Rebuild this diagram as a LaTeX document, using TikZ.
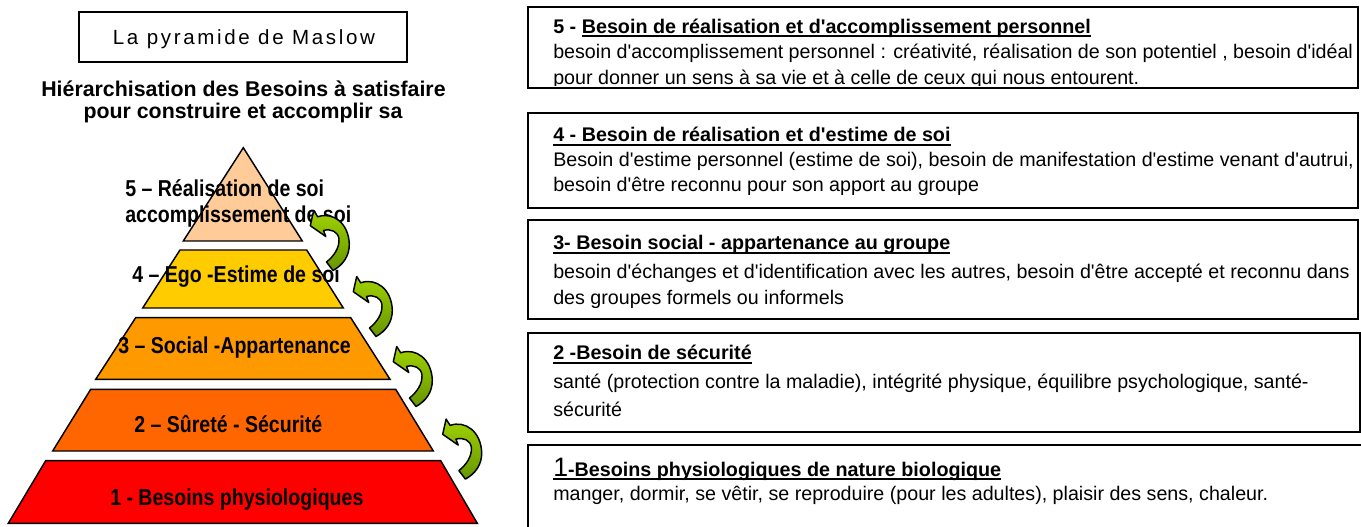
\documentclass[tikz,border=0pt]{standalone}
\usepackage{fontspec}
\newfontfamily\arial{Liberation Sans}
\newfontfamily\narrow[FakeStretch=0.85]{Liberation Sans}
\newfontfamily\spaced[LetterSpace=13]{Liberation Sans}
\definecolor{cfive}{HTML}{FFCC99}
\definecolor{cfour}{HTML}{FFCC00}
\definecolor{cthree}{HTML}{FF9900}
\definecolor{ctwo}{HTML}{FF6600}
\definecolor{cone}{HTML}{FF0000}
\definecolor{arrlight}{RGB}{160,210,0}
\definecolor{arrdark}{RGB}{102,150,0}
\newcommand\ulx[1]{\setbox0\hbox{#1}\rlap{\rule[-2.8pt]{\wd0}{1.3pt}}\box0}
\newcommand\greenarrow[1]{%
  \shade[shift={#1}, top color=arrlight, bottom color=arrdark, draw=black, line width=1.1pt, line join=round]
  (13.3,21.7) -- (16.7,6.5) -- (20.7,12.8) .. controls (36,7.5) and (51.5,19) .. (52.3,40)
  .. controls (52.5,52) and (46,61) .. (36,66.5) -- (29.5,58)
  .. controls (37,52) and (42.5,44) .. (42,35) .. controls (41,27.5) and (34,24.5) .. (26.5,26.5)
  -- (28.8,32.5) -- cycle;}
\begin{document}
\begin{tikzpicture}[x=0.75pt,y=-0.75pt,
  layer/.style={draw=black, line width=1.1pt, line join=miter},
  lab/.style={font=\narrow\bfseries\fontsize{17.25pt}{20pt}\selectfont, inner sep=0pt, anchor=base west},
  head/.style={font=\arial\bfseries\fontsize{16pt}{18pt}\selectfont, inner sep=0pt, anchor=base},
  boxttl/.style={font=\arial\bfseries\fontsize{14.8pt}{17pt}\selectfont, inner sep=0pt, anchor=base west},
  boxtxt/.style={font=\arial\fontsize{14.75pt}{17pt}\selectfont, inner sep=0pt, anchor=base west},
  frame/.style={draw=black, line width=1.5pt}]
\useasboundingbox (0,0) rectangle (1361,527);
\clip (0,0) rectangle (1361,527);

% title box
\draw[line width=1.1pt] (79,12) rectangle (407,62);
\node[font=\spaced\fontsize{15.4pt}{18pt}\selectfont, inner sep=0pt, anchor=base] (titre) at (244,44.3) {La pyramide de Maslow};
\node[head] (h1) at (243.5,96.7) {Hiérarchisation des Besoins à satisfaire};
\node[head] (h2) at (243,119) {pour construire et accomplir sa};

% pyramid
\fill[cfive, layer] (243.3,147.7) -- (302.3,241) -- (183.3,241) -- cycle;
\fill[cfour, layer] (180,250) -- (306.7,250) -- (343.3,308) -- (142.7,308) -- cycle;
\fill[cthree, layer] (135.7,317.7) -- (350.7,317.7) -- (390,379.3) -- (95.7,379.3) -- cycle;
\fill[ctwo, layer] (90.7,389.3) -- (395.7,389.3) -- (433.3,451) -- (52.7,451) -- cycle;
\fill[cone, layer] (45.7,460.7) -- (440.7,460.7) -- (477.3,523.3) -- (8.3,523.3) -- cycle;

\node[lab] (l5a) at (125,197) {5 – Réalisation de soi};
\node[lab] (l5b) at (125,223) {accomplissement de soi};
\node[lab] (l4) at (132,283) {4 – Ego -Estime de soi};
\node[lab] (l3) at (118,354) {3 – Social -Appartenance};
\node[lab] (l2) at (134,432.7) {2 – Sûreté - Sécurité};
\node[lab] (l1) at (110,505) {1 - Besoins physiologiques};

\greenarrow{(297,204)}
\greenarrow{(340,270)}
\greenarrow{(380,340)}
\greenarrow{(429.4,412.6)}

% right boxes
\draw[frame] (528,6.7) rectangle (1358,88.5);
\draw[frame] (528,113) rectangle (1358,208);
\draw[frame] (528,220) rectangle (1358,319);
\draw[frame] (528,333) rectangle (1360,432);
\draw[frame] (528,445) rectangle (1375,540);

\node[boxttl] (t5) at (553,33.3) {5 - \ulx{Besoin de réalisation et d'accomplissement personnel}};
\begin{scope}
\clip (530,40) rectangle (1356,86);
\node[boxtxt] (t5a) at (553,59) {besoin d'accomplissement personnel : créativité, réalisation de son potentiel , besoin d'idéal};
\node[boxtxt] (t5b) at (553,84.5) {pour donner un sens à sa vie et à celle de ceux qui nous entourent.};
\end{scope}

\node[boxttl] (t4) at (553,142) {\ulx{4 - Besoin de réalisation et d'estime de soi}};
\begin{scope}
\clip (530,148) rectangle (1356,194.5);
\node[boxtxt] (t4a) at (553,167) {Besoin d'estime personnel (estime de soi), besoin de manifestation d'estime venant d'autrui,};
\node[boxtxt] (t4b) at (553,192) {besoin d'être reconnu pour son apport au groupe};
\end{scope}

\node[boxttl] (t3) at (553,250) {\ulx{3- Besoin social - appartenance au groupe}};
\begin{scope}
\clip (530,258) rectangle (1356,308);
\node[boxtxt] (t3a) at (553,278.3) {besoin d'échanges et d'identification avec les autres, besoin d'être accepté et reconnu dans};
\node[boxtxt] (t3b) at (553,305) {des groupes formels ou informels};
\end{scope}

\node[boxttl] (t2) at (553,360) {\ulx{2 -Besoin de sécurité}};
\node[boxtxt] (t2a) at (553,388.3) {santé (protection contre la maladie), intégrité physique, équilibre psychologique, santé-};
\node[boxtxt] (t2b) at (553,416.7) {sécurité};

\node[boxttl] (t1) at (553,476) {\ulx{{\mdseries\fontsize{20pt}{24pt}\selectfont 1}-Besoins physiologiques de nature biologique}};
\node[boxtxt] (t1a) at (553,500) {manger, dormir, se vêtir, se reproduire (pour les adultes), plaisir des sens, chaleur.};
\end{tikzpicture}
\end{document}
